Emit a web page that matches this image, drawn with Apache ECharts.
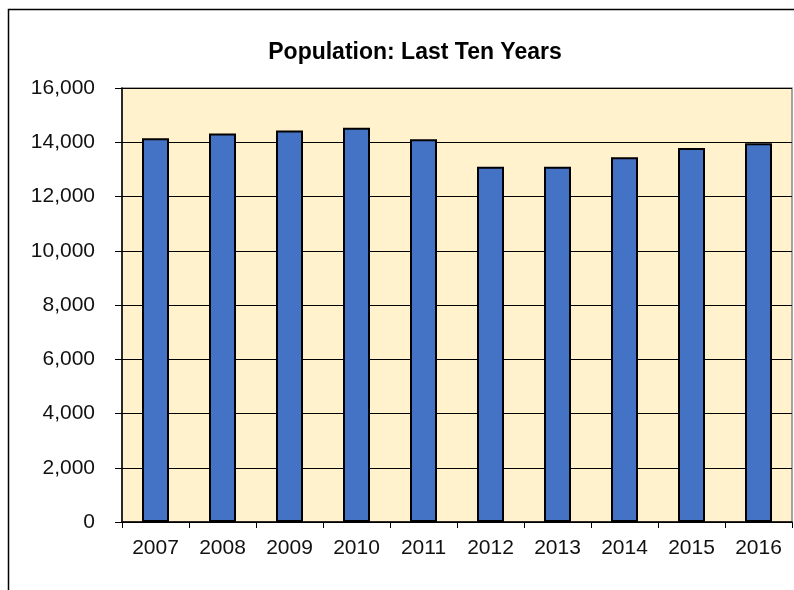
<!DOCTYPE html>
<html>
<head>
<meta charset="utf-8">
<script src="https://cdn.jsdelivr.net/npm/echarts@6/dist/echarts.min.js"></script>
<style>
html,body{margin:0;padding:0;background:#fff;}
#chart{width:794px;height:590px;}
</style>
</head>
<body>
<div id="chart"></div>
<script>
const titleText = 'Population: Last Ten Years';
const categories = ['2007','2008','2009','2010','2011','2012','2013','2014','2015','2016'];
const population = [14150, 14320, 14430, 14530, 14110, 13100, 13100, 13450, 13790, 13960];

const chart = echarts.init(document.getElementById('chart'), null, {renderer: 'canvas'});
const FONT = '"Liberation Sans", Arial, sans-serif';
chart.setOption({
  animation: false,
  backgroundColor: '#ffffff',
  title: {
    text: titleText,
    left: 410, top: 36, textAlign: 'center',
    textStyle: {fontFamily: FONT, fontSize: 23, fontWeight: 'bold', color: '#000'}
  },
  graphic: [{
    type: 'rect', z: 100, silent: true,
    shape: {x: 8.5, y: 9.5, width: 820, height: 620},
    style: {fill: 'none', stroke: '#000', lineWidth: 1.5}
  }],
  grid: {
    left: 122, right: 2, top: 88, bottom: 68,
    show: true, backgroundColor: '#FFF2CC', borderColor: '#888888', borderWidth: 1.5
  },
  xAxis: {
    type: 'category',
    data: categories,
    boundaryGap: true,
    axisLine: {show: true, lineStyle: {color: '#000', width: 1.5}},
    axisTick: {show: true, alignWithLabel: false, length: 6, inside: false, lineStyle: {color: '#000', width: 1}},
    axisLabel: {fontFamily: FONT, fontSize: 21, color: '#111', margin: 16}
  },
  yAxis: {
    type: 'value',
    min: 0, max: 16000, interval: 2000,
    axisLine: {show: true, lineStyle: {color: '#000', width: 1.5}},
    axisTick: {show: true, length: 7, lineStyle: {color: '#000', width: 1}},
    splitLine: {show: true, lineStyle: {color: '#000', width: 1}},
    axisLabel: {
      fontFamily: FONT, fontSize: 21, color: '#111', margin: 27,
      formatter: v => v.toLocaleString('en-US')
    }
  },
  series: [{
    type: 'bar',
    data: population,
    barWidth: 27,
    itemStyle: {color: '#4472C4', borderColor: '#000', borderWidth: 2}
  }]
});
</script>
</body>
</html>
